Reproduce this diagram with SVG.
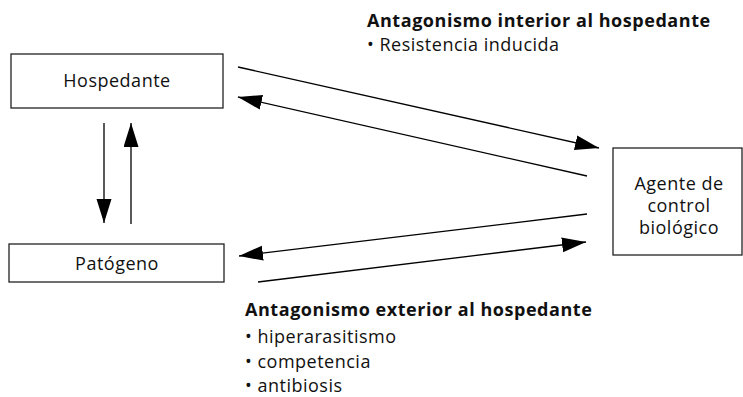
<svg xmlns="http://www.w3.org/2000/svg" width="743" height="397" viewBox="0 0 743 397">
<style>
.box{fill:#fff;stroke:#222;stroke-width:1.3}
.t{font-family:"Open Sans","Noto Sans",sans-serif;font-size:18px;letter-spacing:0.5px;fill:#111}
.b{font-weight:bold;letter-spacing:0.55px}
.c{text-anchor:middle}
.ln{stroke:#000;stroke-width:1.3;fill:none;marker-end:url(#ah)}
</style>
<defs>
<marker id="ah" markerUnits="userSpaceOnUse" markerWidth="26" markerHeight="16" refX="24" refY="7.5" orient="auto">
<path d="M0,0 L24,7.5 L0,15 Z" fill="#000"/>
</marker>
</defs>
<rect width="743" height="397" fill="#fff"/>
<g id="hospedante">
<rect class="box" x="11" y="54" width="212" height="54"/>
<text class="t c" x="117" y="87">Hospedante</text>
</g>
<g id="patogeno">
<rect class="box" x="9" y="244" width="215" height="38"/>
<text class="t c" x="117" y="270">Patógeno</text>
</g>
<g id="agente">
<rect class="box" x="613" y="148" width="129" height="107"/>
<text class="t c" x="679" y="190">Agente de</text>
<text class="t c" x="679" y="212">control</text>
<text class="t c" x="679" y="234">biológico</text>
</g>
<g id="connectors">
<line class="ln" x1="104" y1="123" x2="104" y2="223"/>
<line class="ln" x1="131" y1="224" x2="131" y2="123"/>
<line class="ln" x1="238" y1="67" x2="599" y2="148"/>
<line class="ln" x1="587" y1="176" x2="238" y2="97"/>
<line class="ln" x1="587" y1="214" x2="239" y2="256"/>
<line class="ln" x1="258" y1="282" x2="586" y2="242"/>
</g>
<g id="labels">
<text class="t b" x="367" y="27">Antagonismo interior al hospedante</text>
<text class="t" x="367" y="51">• Resistencia inducida</text>
<text class="t b" x="245" y="316">Antagonismo exterior al hospedante</text>
<text class="t" x="245" y="343">• hiperarasitismo</text>
<text class="t" x="245" y="368">• competencia</text>
<text class="t" x="245" y="392">• antibiosis</text>
</g>
</svg>
